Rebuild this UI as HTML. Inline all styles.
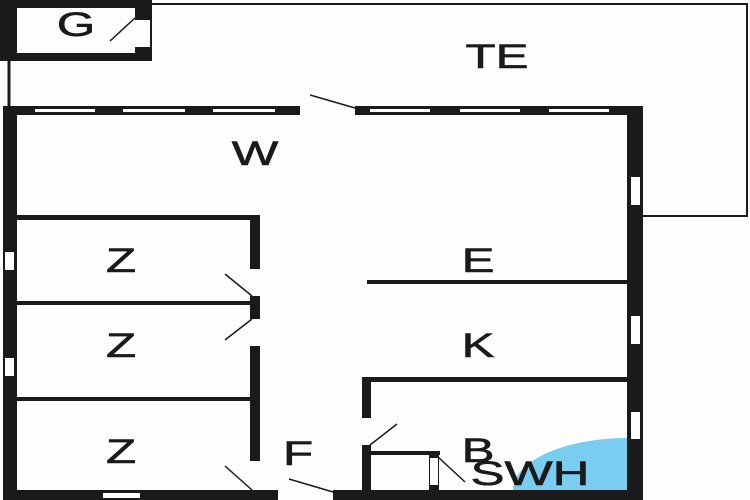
<!DOCTYPE html>
<html><head><meta charset="utf-8"><style>
html,body{margin:0;padding:0;background:#fff;}
svg{display:block}
text{font-family:"Liberation Sans",sans-serif;font-size:34px;fill:#1a1a1a;stroke:#1a1a1a;stroke-width:0.6;text-anchor:middle}
</style></head><body>
<svg width="750" height="500" viewBox="0 0 750 500" xmlns="http://www.w3.org/2000/svg">
<rect width="750" height="500" fill="#fdfdfc"/>
<polyline points="150,4 747,4 747,216 643,216" fill="none" stroke="#1a1a1a" stroke-width="2"/>
<line x1="9" y1="60" x2="9" y2="107" stroke="#1a1a1a" stroke-width="3"/>
<rect x="0" y="0" width="152" height="61" fill="#1a1a1a"/>
<rect x="17" y="8" width="118" height="45" fill="#fdfdfc"/>
<rect x="135" y="20" width="15" height="27" fill="#fdfdfc"/>
<line x1="110" y1="41" x2="135" y2="18" stroke="#1a1a1a" stroke-width="1.5"/>
<rect x="3" y="106" width="640" height="9" fill="#1a1a1a"/>
<g fill="#fdfdfc">
<rect x="35" y="109" width="60" height="3"/><rect x="123" y="109" width="62" height="3"/><rect x="213" y="109" width="62" height="3"/>
<rect x="300" y="106" width="55" height="9"/>
<rect x="370" y="109" width="60" height="3"/><rect x="460" y="109" width="60" height="3"/><rect x="549" y="109" width="60" height="3"/>
</g>
<line x1="310" y1="95" x2="355" y2="108" stroke="#1a1a1a" stroke-width="1.5"/>
<rect x="3" y="106" width="14" height="391" fill="#1a1a1a"/>
<rect x="5" y="252" width="9" height="18" fill="#fdfdfc"/>
<rect x="5" y="358" width="9" height="18" fill="#fdfdfc"/>
<rect x="627" y="106" width="16" height="391" fill="#1a1a1a"/>
<rect x="631" y="177" width="9" height="28" fill="#fdfdfc"/>
<rect x="631" y="316" width="9" height="28" fill="#fdfdfc"/>
<rect x="631" y="412" width="9" height="27" fill="#fdfdfc"/>
<rect x="3" y="490" width="640" height="10" fill="#1a1a1a"/>
<rect x="103" y="493" width="37" height="5" fill="#fdfdfc"/>
<rect x="278" y="490" width="55" height="10" fill="#fdfdfc"/>
<line x1="289" y1="479" x2="333" y2="492" stroke="#1a1a1a" stroke-width="1.5"/>
<rect x="17" y="215" width="243" height="5" fill="#1a1a1a"/>
<rect x="17" y="301" width="235" height="4" fill="#1a1a1a"/>
<rect x="17" y="397" width="235" height="4" fill="#1a1a1a"/>
<rect x="250" y="215" width="10" height="277" fill="#1a1a1a"/>
<g fill="#fdfdfc">
<rect x="250" y="269" width="10" height="27"/><rect x="250" y="319" width="10" height="27"/><rect x="250" y="461" width="10" height="29"/>
</g>
<g stroke="#1a1a1a" stroke-width="1.5">
<line x1="225" y1="274" x2="252" y2="296"/>
<line x1="225" y1="340" x2="252" y2="319"/>
<line x1="225" y1="466" x2="252" y2="490"/>
</g>
<rect x="367" y="280" width="260" height="4" fill="#1a1a1a"/>
<rect x="362" y="377" width="265" height="5" fill="#1a1a1a"/>
<rect x="362" y="377" width="9" height="115" fill="#1a1a1a"/>
<rect x="362" y="418" width="9" height="27" fill="#fdfdfc"/>
<line x1="370" y1="445" x2="397" y2="424" stroke="#1a1a1a" stroke-width="1.5"/>
<rect x="370" y="451" width="70" height="4" fill="#1a1a1a"/>
<rect x="429" y="451" width="10" height="41" fill="#1a1a1a"/>
<rect x="430" y="458" width="8" height="27" fill="#fdfdfc"/>
<line x1="437" y1="456" x2="465" y2="482" stroke="#1a1a1a" stroke-width="1.5"/>
<path d="M513,490 A114,52 0 0 1 627,438 L627,490 Z" fill="#78cdf0"/>
<text transform="translate(76,36) scale(1.45,1)">G</text>
<text transform="translate(497,68) scale(1.45,1)">TE</text>
<text transform="translate(255,165) scale(1.45,1)">W</text>
<text transform="translate(121,272) scale(1.45,1)">Z</text>
<text transform="translate(121,357) scale(1.45,1)">Z</text>
<text transform="translate(121,463) scale(1.45,1)">Z</text>
<text transform="translate(478,272) scale(1.45,1)">E</text>
<text transform="translate(478,357) scale(1.45,1)">K</text>
<text transform="translate(298,465) scale(1.45,1)">F</text>
<text transform="translate(478,462) scale(1.45,1)">B</text>
<text transform="translate(530,485) scale(1.5,1)">SWH</text>
</svg>
</body></html>
